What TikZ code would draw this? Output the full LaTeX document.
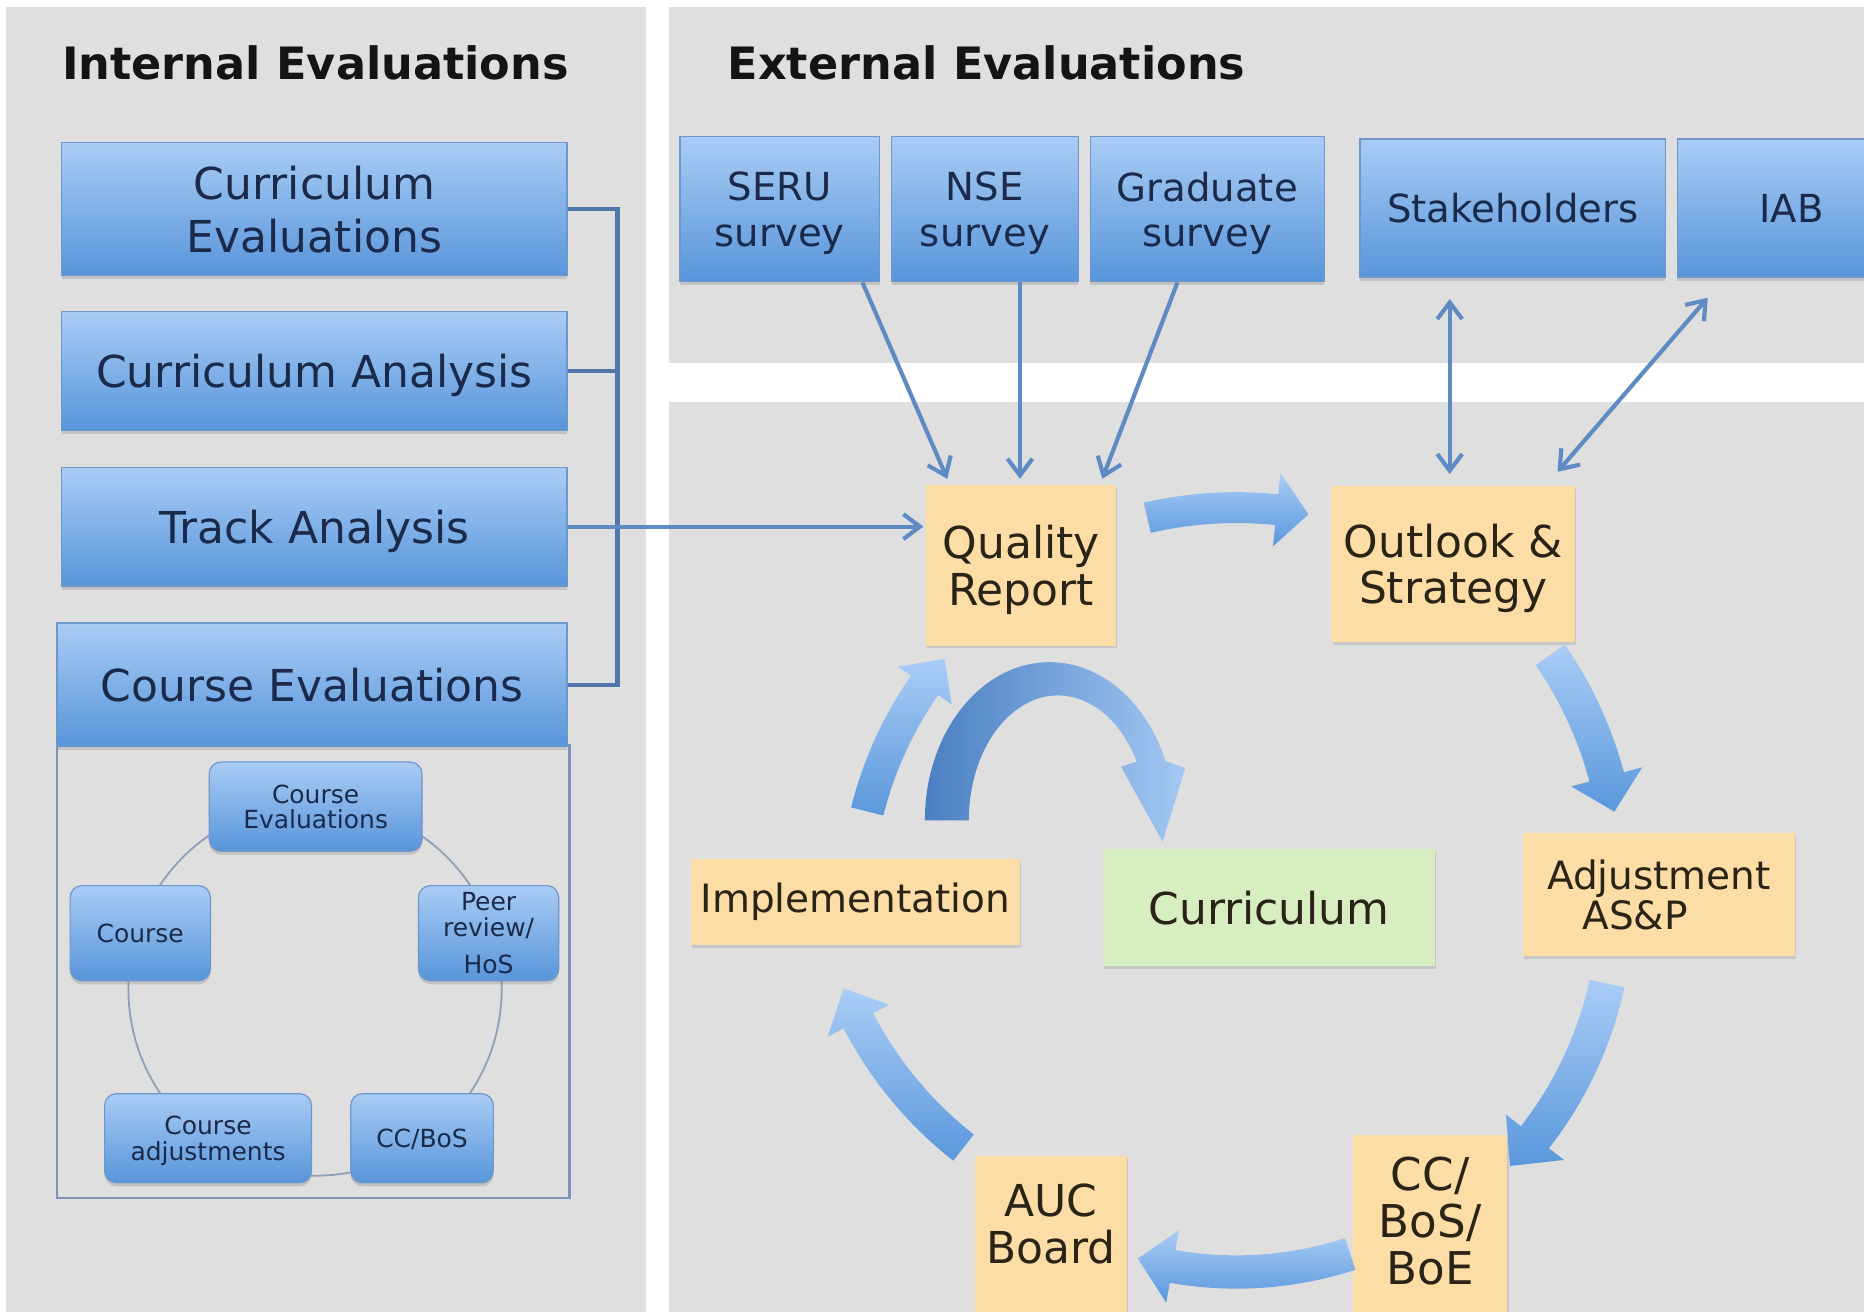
\documentclass[tikz,border=0pt]{standalone}
\usepackage{fontspec}
\setmainfont{DejaVu Sans}
\usetikzlibrary{arrows.meta,shadows,calc}
\definecolor{panelgray}{HTML}{DFDFDF}
\definecolor{bluetop}{HTML}{A9CCF5}
\definecolor{bluebot}{HTML}{5895DA}
\definecolor{boxedge}{HTML}{6E96C9}
\definecolor{navytext}{HTML}{1B2A4A}
\definecolor{orangefill}{HTML}{FDDDA6}
\definecolor{greenfill}{HTML}{D7EEC1}
\definecolor{darktext}{HTML}{2A2418}
\definecolor{linkblue}{HTML}{5E8BC4}
\definecolor{brackblue}{HTML}{5075A8}
\definecolor{arlight}{HTML}{AACDF6}
\definecolor{ardark}{HTML}{5A97DC}
\definecolor{asevdark}{HTML}{4A7FC2}
\definecolor{asevlight}{HTML}{A3C8F3}
\definecolor{circgray}{HTML}{8D9FB6}
\definecolor{framecol}{HTML}{7A93B6}
\newcommand\fsBox{\fontsize{37}{44}\selectfont}
\newcommand\fsSurvey{\fontsize{32.5}{38}\selectfont}
\newcommand\fsOrange{\fontsize{37}{39}\selectfont}
\newcommand\fsSmallOr{\fontsize{32.8}{34}\selectfont}
\newcommand\fsTiny{\fontsize{21}{21.5}\selectfont}
\newcommand\fsTitle{\fontsize{37.5}{45}\selectfont\bfseries}
\newcommand\fsCC{\fontsize{38}{39.5}\selectfont}
% curved block arrow: cx, cy (image coords), r, a1, a2, shaft w, head w, head l
\newcommand\cbarrow[8]{%
  \pgfmathsetmacro\cbRo{(#3)+(#6)/2}%
  \pgfmathsetmacro\cbRi{(#3)-(#6)/2}%
  \pgfmathsetmacro\cbHo{(#3)+(#7)/2}%
  \pgfmathsetmacro\cbHi{(#3)-(#7)/2}%
  \pgfmathsetmacro\cbAb{(#5)-sign((#5)-(#4))*deg((#8)/(#3))}%
  \shade[top color=arlight,bottom color=ardark,shift={(#1,-#2)}]
    (#4:\cbRo) arc[start angle=#4,end angle=\cbAb,radius=\cbRo]
    -- (\cbAb:\cbHo) -- (#5:#3) -- (\cbAb:\cbHi) -- (\cbAb:\cbRi)
    arc[start angle=\cbAb,end angle=#4,radius=\cbRi] -- cycle;
}
\begin{document}
\begin{tikzpicture}[x=1pt,y=1pt,
  bluebox/.style={draw=boxedge,line width=1pt,top color=bluetop,bottom color=bluebot,inner sep=0pt,align=center,text=navytext,text depth=0pt,drop shadow={opacity=0.3,shadow xshift=0pt,shadow yshift=-3pt}},
  smallbox/.style={bluebox,rounded corners=10pt,font=\fsTiny},
  orbox/.style={fill=orangefill,inner sep=0pt,align=center,text=darktext,text depth=0pt,drop shadow={opacity=0.25,shadow xshift=1pt,shadow yshift=-2.5pt}},
  plaintext/.style={inner sep=0pt,align=center,text=darktext},
  conn/.style={linkblue,line width=3.5pt},
  arrowbarb/.style={-{Straight Barb[length=14pt,width=21pt]}},
  dblbarb/.style={{Straight Barb[length=14pt,width=21pt]}-{Straight Barb[length=14pt,width=21pt]}},
]
\useasboundingbox (0,0) rectangle (1568,-1103);
\clip (0,0) rectangle (1568,-1103);
\fill[white] (0,0) rectangle (1568,-1103);
\fill[panelgray] (5,-6) rectangle (543,-1110);
\fill[panelgray] (563,-6) rectangle (1570,-305);
\fill[panelgray] (563,-338) rectangle (1570,-1110);

% titles
\node[anchor=west,inner sep=0pt,font=\fsTitle,text=black!92] (tin) at (52,-53) {Internal Evaluations};
\node[anchor=west,inner sep=0pt,font=\fsTitle,text=black!92] (tex) at (612,-53) {External Evaluations};

% left column
\node[bluebox,font=\fsBox,minimum width=425pt,minimum height=112pt] (ce) at (264.5,-176) {Curriculum\\Evaluations};
\node[bluebox,font=\fsBox,minimum width=425pt,minimum height=100pt] (ca) at (264.5,-312) {Curriculum Analysis};
\node[bluebox,font=\fsBox,minimum width=425pt,minimum height=100pt] (ta) at (264.5,-443) {Track Analysis};
\node[draw=framecol,line width=2pt,minimum width=431pt,minimum height=381pt,inner sep=0pt] (cef) at (263.5,-817.5) {};
\node[bluebox,font=\fsBox,minimum width=429pt,minimum height=104pt] (cev) at (262.5,-576) {Course Evaluations};

% inner cycle
\node[circle,draw=circgray,line width=1.5pt,minimum size=314pt,inner sep=0pt] (cyc) at (265,-832) {};
\node[smallbox,minimum width=179pt,minimum height=75pt] (ice) at (265.5,-678.5) {Course\\Evaluations};
\node[smallbox,minimum width=118pt,minimum height=80pt] (ipr) at (411,-785) {Peer\\review/\\[10pt]HoS};
\node[smallbox,minimum width=120pt,minimum height=75pt] (icb) at (355,-957.5) {CC/BoS};
\node[smallbox,minimum width=174pt,minimum height=75pt] (ica) at (175,-957.5) {Course\\adjustments};
\node[smallbox,minimum width=118pt,minimum height=80pt] (ico) at (118,-785) {Course};

% top right
\node[bluebox,font=\fsSurvey,minimum width=168pt,minimum height=122pt] (seru) at (656,-176) {SERU\\survey};
\node[bluebox,font=\fsSurvey,minimum width=157pt,minimum height=122pt] (nse) at (828.5,-176) {NSE\\survey};
\node[bluebox,font=\fsSurvey,minimum width=197pt,minimum height=122pt] (grad) at (1015.5,-176) {Graduate\\survey};
\node[bluebox,font=\fsSurvey,minimum width=257pt,minimum height=116pt] (stake) at (1272.5,-175) {Stakeholders};
\node[bluebox,font=\fsSurvey,minimum width=192pt,minimum height=116pt] (iab) at (1507,-175) {IAB};

% orange / green boxes
\node[orbox,font=\fsOrange,minimum width=160pt,minimum height=135pt] (qr) at (859,-475.5) {Quality\\Report};
\node[orbox,font=\fsOrange,minimum width=205pt,minimum height=131pt] (os) at (1222.5,-474.5) {Outlook \&\\Strategy};
\node[orbox,font=\fsSmallOr,minimum width=229pt,minimum height=103pt] (adj) at (1395.5,-752.5) {Adjustment\\AS\&P\hspace*{40pt}};
\node[orbox,minimum width=130pt,minimum height=160pt] (cbb) at (1203,-1035) {};
\node[plaintext,font=\fsCC] (cbbt) at (1203,-1027) {CC/\\BoS/\\BoE};
\node[orbox,minimum width=128pt,minimum height=143pt] (auc) at (884,-1043.5) {};
\node[plaintext,font=\fsOrange] (auct) at (884,-1029.5) {AUC\\Board};
\node[orbox,font=\fsSmallOr,text depth=7.7pt,minimum width=277pt,minimum height=72pt] (impl) at (719.5,-759) {Implementation};
\node[orbox,fill=greenfill,font=\fsOrange,minimum width=279pt,minimum height=99pt] (curr) at (1067.5,-763.5) {Curriculum};

% bracket and connectors
\draw[brackblue,line width=3.5pt] (ce.east) -- ++(42,0) coordinate (btop) -- (btop |- cev.east) -- (cev.east);
\draw[brackblue,line width=3.5pt] (ca.east) -- (ca.east -| btop);
\draw[conn,arrowbarb,shorten >=2pt] (ta.east) -- (qr.west |- ta.east);
\draw[conn,arrowbarb] ([xshift=-15pt]seru.south east) -- ([xshift=18pt,yshift=5pt]qr.north west);
\draw[conn,arrowbarb] ([xshift=-1pt]qr.north |- nse.south) -- ([xshift=-1pt,yshift=5pt]qr.north);
\draw[conn,arrowbarb] ([xshift=-25pt]grad.south) -- ([xshift=-12pt,yshift=5pt]qr.north east);
\draw[conn,dblbarb] ([xshift=-3pt,yshift=-18pt]os.north |- stake.south) -- ([xshift=-3pt,yshift=10pt]os.north);
\draw[conn,dblbarb] ([xshift=26pt,yshift=-17pt]iab.south west) -- ([xshift=-15pt,yshift=12pt]os.north east);

% big curved block arrows of the cycle
\cbarrow{1040}{760}{333}{103}{79.5}{26}{62}{27}
\cbarrow{1030}{740}{333}{34.6}{9.9}{30}{62}{30}
\cbarrow{1040}{760}{319}{-12.2}{-43.8}{30}{62}{32}
\cbarrow{1040}{760}{310}{-72}{-105.5}{28}{62}{30}
\cbarrow{1010}{710}{324}{-128}{-158}{28}{58}{30}
\cbarrow{1040}{760}{320}{166}{140}{28}{55}{28}

% quality report -> curriculum arch
\shade[left color=asevdark,right color=asevlight]
  (778,-690) arc[start angle=180,end angle=22,x radius=105,y radius=133]
  -- (997,-646) -- (978,-708) -- (943,-645) -- (956.2,-640.7)
  arc[start angle=28,end angle=180,x radius=75,y radius=105] -- cycle;
\end{tikzpicture}
\end{document}
